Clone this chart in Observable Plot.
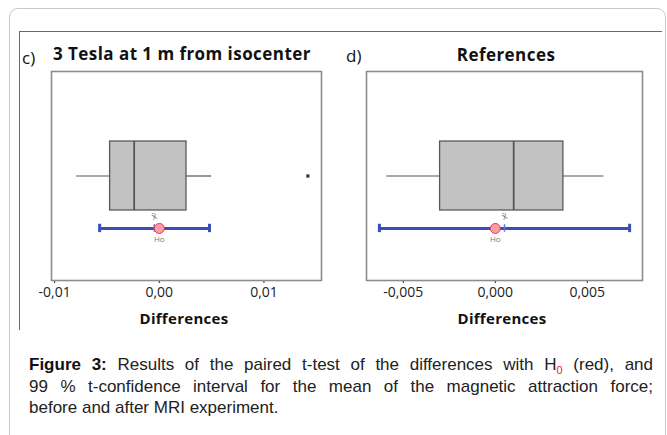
<!DOCTYPE html>
<html>
<head>
<meta charset="utf-8">
<script src="https://cdn.jsdelivr.net/npm/d3@7"></script>
<script src="https://cdn.jsdelivr.net/npm/@observablehq/plot@0.6"></script>
<style>
  html, body { margin: 0; padding: 0; background: #fff; }
  body { width: 667px; height: 435px; position: relative; overflow: hidden; font-family: "Open Sans", sans-serif; }
  .abs { position: absolute; white-space: nowrap; }
  #outer { position: absolute; left: 9px; top: 8px; width: 657px; height: 460px; border: 1px solid #c8c8c8; border-radius: 9px; box-sizing: border-box; }
  #topline { position: absolute; left: 19px; top: 31px; width: 643px; height: 0; border-top: 1px solid #6a6a6a; }
  #leftline { position: absolute; left: 19px; top: 31px; width: 0; height: 299px; border-left: 1px solid #6a6a6a; }
  .title { font-weight: 700; font-size: 17px; letter-spacing: 0.45px; color: #111; }
  .letter { font-family: "Open Sans", sans-serif; font-size: 17px; color: #111; }
  .xlab { font-weight: 700; font-size: 15px; letter-spacing: 0.3px; color: #111; transform: translateX(-50%); }
  #caption { position: absolute; left: 29px; top: 354px; width: 624px; font-family: "Liberation Sans", Arial, sans-serif; font-size: 17px; line-height: 21.5px; color: #222; }
  #caption .ln { white-space: nowrap; text-align: justify; text-align-last: justify; }
  #caption .ln.last { text-align-last: left; }
  #caption b { color: #111; }
  #caption sub { color: #e8202a; font-size: 11px; line-height: 0; }
  .panel { position: absolute; top: 0; }
</style>
</head>
<body>
<div id="outer"></div>
<div id="topline"></div>
<div id="leftline"></div>
<div id="panelC" class="panel" style="left:0px"></div>
<div id="panelD" class="panel" style="left:333px"></div>
<div class="abs letter" style="left:22px; top:46px;">c)</div>
<div class="abs title" style="left:53px; top:42px;">3 Tesla at 1 m from isocenter</div>
<div class="abs letter" style="left:346px; top:44px;">d)</div>
<div class="abs title" style="left:506px; top:43px; transform:translateX(-50%);">References</div>
<div class="abs xlab" style="left:184px; top:308px;">Differences</div>
<div class="abs xlab" style="left:502px; top:308px;">Differences</div>
<div id="caption">
  <div class="ln"><b>Figure 3:</b> Results of the paired t-test of the differences with H<sub>0</sub> (red), and</div>
  <div class="ln">99 % t-confidence interval for the mean of the magnetic attraction force;</div>
  <div class="ln last">before and after MRI experiment.</div>
</div>
<script>
// ---- data ----
const panelNames = ["3 Tesla at 1 m from isocenter", "References"];
const tickLabelsC = [-0.01, 0, 0.01];
const tickLabelsD = [-0.005, 0, 0.005];
const domainC = [-0.0103, 0.0155];
const domainD = [-0.0070, 0.0080];
// box-plot statistics [whiskerLow, q1, median, q3, whiskerHigh]
const boxC = [-0.0079, -0.0047, -0.0024, 0.0026, 0.0050];
const boxD = [-0.0059, -0.0030, 0.0010, 0.0037, 0.0059];
const outliersC = [0.0142];
const outliersD = [];
// 99 % confidence interval [low, mean, high]
const ciC = [-0.0057, -0.00048, 0.0048];
const ciD = [-0.0063, 0.0005, 0.0073];
const h0 = 0;

const locale = d3.formatLocale({decimal: ",", thousands: ".", grouping: [3], currency: ["", ""], minus: "-"});

function panel(box, outliers, ci, domain, ticks, digits, width, ml, mr) {
  const [wl, q1, med, q3, wh] = box;
  const [lo, mean, hi] = ci;
  const yBox = 0.5, boxHalf = 0.165, yCI = 0.249;
  const one = [0];
  return Plot.plot({
    width, height: 310,
    marginLeft: ml, marginRight: mr, marginTop: 71, marginBottom: 30,
    style: {fontFamily: "Open Sans, sans-serif", fontSize: "14px", color: "#222", background: "transparent", overflow: "visible"},
    x: {domain, ticks, tickFormat: locale.format(`.${digits}f`), tickSize: 3, tickPadding: 4, label: null},
    y: {domain: [0, 1], axis: null},
    marks: [
      // whiskers
      Plot.ruleY(one, {x1: () => wl, x2: () => q1, y: () => yBox, stroke: "#555", strokeWidth: 1.2}),
      Plot.ruleY(one, {x1: () => q3, x2: () => wh, y: () => yBox, stroke: "#555", strokeWidth: 1.2}),
      // box
      Plot.rect(one, {x1: () => q1, x2: () => q3, y1: () => yBox - boxHalf, y2: () => yBox + boxHalf, fill: "#c2c2c2", stroke: "#5a5a5a", strokeWidth: 1.3}),
      Plot.ruleX(one, {x: () => med, y1: () => yBox - boxHalf, y2: () => yBox + boxHalf, stroke: "#555", strokeWidth: 1.8}),
      // outliers
      Plot.dot(outliers, {x: d => d, y: () => yBox, symbol: "square", r: 1.8, fill: "#333"}),
      // confidence interval
      Plot.ruleY(one, {x1: () => lo, x2: () => hi, y: () => yCI, stroke: "#3a4fb5", strokeWidth: 3}),
      Plot.ruleX([lo, hi], {x: d => d, y1: () => yCI - 0.02, y2: () => yCI + 0.02, stroke: "#3a4fb5", strokeWidth: 3}),
      Plot.ruleX(one, {x: () => mean, y1: () => yCI - 0.018, y2: () => yCI + 0.018, stroke: "#5b78d8", strokeWidth: 1.5}),
      // H0
      Plot.dot(one, {x: () => h0, y: () => yCI, r: 5, fill: "#f4a0aa", stroke: "#e8384c", strokeWidth: 1}),
      Plot.text(one, {x: () => mean, y: () => yCI, dy: -12, text: () => "x\u0304", fontSize: 10, fill: "#777", rotate: -20}),
      Plot.text(one, {x: () => h0, y: () => yCI, dy: 11, text: () => "Ho", fontSize: 8, fill: "#777"}),
      Plot.frame({stroke: "#8c8c8c", strokeWidth: 1.6})
    ]
  });
}

document.getElementById("panelC").append(panel(boxC, outliersC, ciC, domainC, tickLabelsC, 2, 333, 51, 12));
document.getElementById("panelD").append(panel(boxD, outliersD, ciD, domainD, tickLabelsD, 3, 334, 33, 25));
</script>
</body>
</html>
